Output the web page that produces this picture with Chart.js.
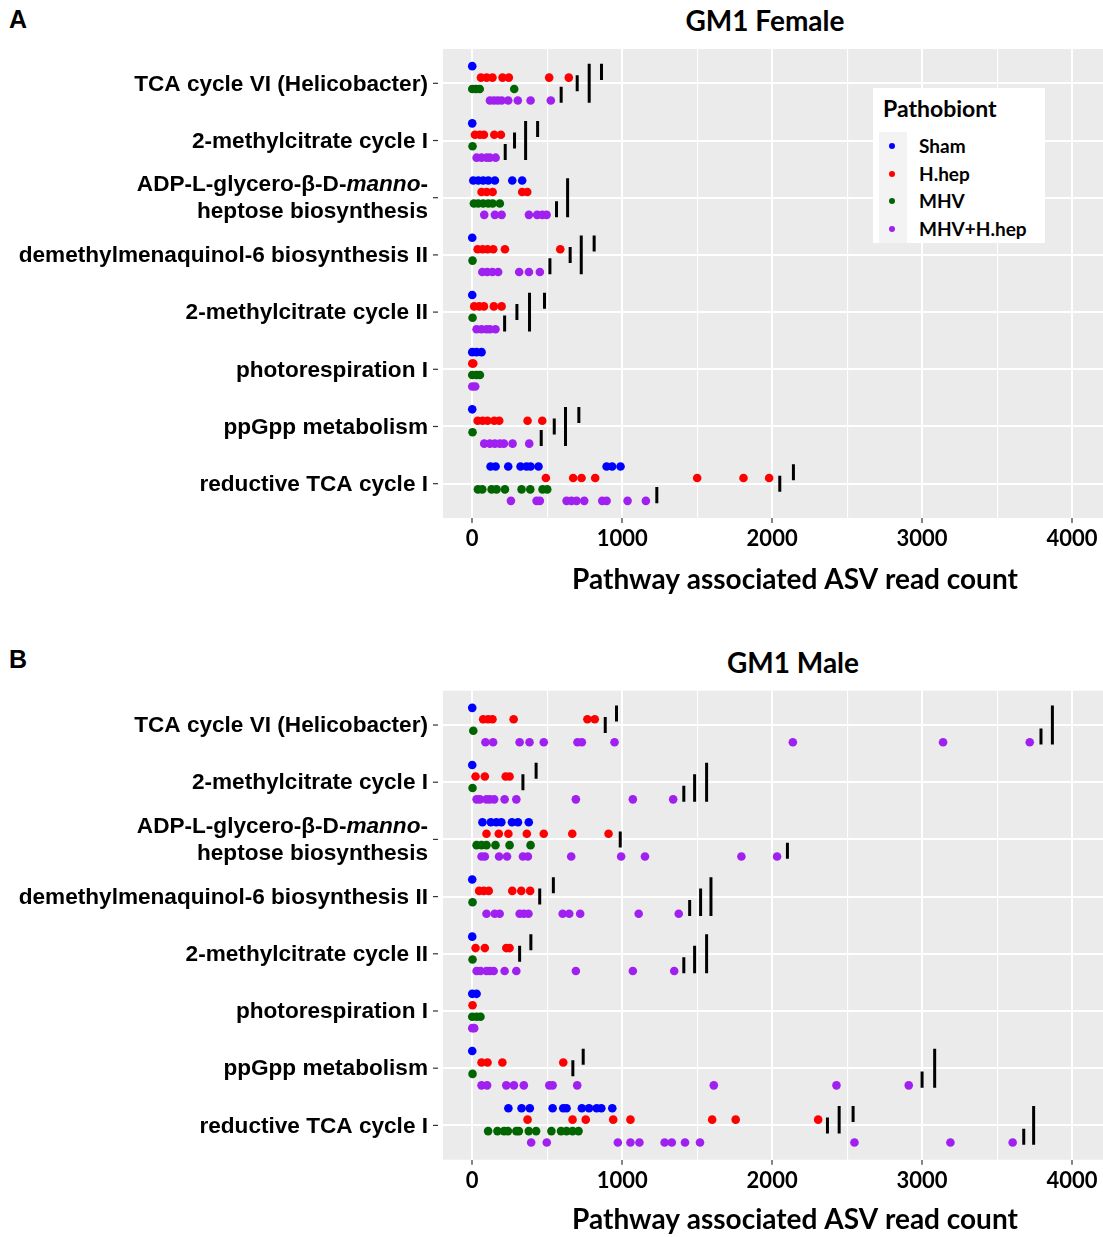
<!DOCTYPE html>
<html>
<head>
<meta charset="utf-8">
<script src="https://cdn.jsdelivr.net/npm/chart.js@4"></script>
<style>
  html, body { margin: 0; padding: 0; background: #fff; width: 1103px; height: 1237px; overflow: hidden; }
  #page { position: relative; width: 1103px; height: 1237px; overflow: hidden; }
  .panel { position: absolute; left: 0; }
  .letter { position: absolute; font: bold 25px "Liberation Sans", Arial, sans-serif; line-height: 28px; color: #000; }
  .title { position: absolute; font: bold 28px Lato, sans-serif; line-height: 32px; color: #000; transform: translateX(-50%); white-space: nowrap; }
  #legend { position: absolute; left: 873px; top: 88px; width: 172px; height: 155px; background: #fff; font-family: Lato, sans-serif; font-weight: bold; color: #000; }
  #legend .ltitle { position: absolute; left: 10px; top: 5px; font-size: 23px; line-height: 30px; }
  #legend .keys { position: absolute; left: 6px; top: 44px; width: 28px; height: 111px; background: #f3f3f3; }
  #legend .item { position: absolute; left: 46px; font-size: 19px; line-height: 24px; }
  #legend .dot { position: absolute; width: 6px; height: 6px; border-radius: 50%; }
</style>
</head>
<body>
<div id="page">
  <div class="letter" style="left:9px;top:5px;">A</div>
  <div class="title" style="left:765px;top:4px;">GM1 Female</div>
  <div class="panel" style="top:0px;"><canvas id="female" width="1160" height="600"></canvas></div>
  <div id="legend"></div>

  <div class="letter" style="left:9px;top:645px;">B</div>
  <div class="title" style="left:793px;top:646px;">GM1 Male</div>
  <div class="panel" style="top:640px;"><canvas id="male" width="1160" height="597"></canvas></div>
</div>
<script>
// Pathways, top to bottom. "\n" breaks a line, text between underscores is set in italics.
const pathways = [
  'TCA cycle VI (Helicobacter)',
  '2-methylcitrate cycle I',
  'ADP-L-glycero-β-D-_manno_-\nheptose biosynthesis',
  'demethylmenaquinol-6 biosynthesis II',
  '2-methylcitrate cycle II',
  'photorespiration I',
  'ppGpp metabolism',
  'reductive TCA cycle I'
];

const groups = ['Sham', 'H.hep', 'MHV', 'MHV+H.hep'];
const groupColors = ['#0000FF', '#FF0000', '#006400', '#A020F0'];

const xTickLabels = [0, 1000, 2000, 3000, 4000];
const xGridValues = [0, 500, 1000, 1500, 2000, 2500, 3000, 3500, 4000, 4500];
const xAxisTitle = 'Pathway associated ASV read count';
const legendTitle = 'Pathobiont';

// ---- GM1 Female: read counts per pathway, one array per group ----
const femaleSham = [
  [0], [0], [7, 40, 73, 107, 151, 267, 333], [0], [0], [0, 29, 62], [0],
  [122, 156, 240, 322, 362, 389, 442, 896, 933, 989]
];
const femaleHhep = [
  [58, 96, 135, 202, 244, 513, 644],
  [18, 51, 78, 147, 191],
  [62, 96, 136, 333, 367],
  [36, 69, 102, 140, 218, 587],
  [13, 47, 78, 144, 196],
  [0, 7],
  [36, 69, 102, 147, 180, 369, 467],
  [491, 673, 729, 820, 1500, 1809, 1980]
];
const femaleMHV = [
  [0, 25, 50, 280], [2], [11, 40, 73, 107, 136, 184], [2], [2], [0, 29, 51], [2],
  [38, 67, 129, 162, 218, 329, 387, 469, 500]
];
const femaleMHVHhep = [
  [118, 145, 170, 196, 240, 304, 389, 524],
  [29, 62, 96, 118, 156],
  [80, 151, 196, 378, 433, 467, 496],
  [67, 100, 135, 173, 313, 378, 451],
  [29, 62, 96, 118, 155],
  [0, 20],
  [80, 118, 151, 184, 211, 269, 380],
  [258, 429, 451, 629, 662, 696, 747, 867, 896, 1036, 1158]
];
// Significance bars: [pathway index, first group, second group, read count]
const femaleBars = [
  [0, 0, 1, 862], [0, 1, 2, 700], [0, 0, 3, 780], [0, 2, 3, 593],
  [1, 0, 1, 436], [1, 1, 2, 282], [1, 0, 3, 356], [1, 2, 3, 220],
  [2, 0, 3, 636], [2, 2, 3, 562],
  [3, 0, 1, 813], [3, 1, 2, 653], [3, 0, 3, 727], [3, 2, 3, 518],
  [4, 0, 1, 482], [4, 1, 2, 298], [4, 0, 3, 382], [4, 2, 3, 216],
  [6, 0, 1, 711], [6, 1, 2, 547], [6, 0, 3, 622], [6, 2, 3, 460],
  [7, 0, 1, 2142], [7, 1, 2, 2051], [7, 2, 3, 1231]
];

// ---- GM1 Male ----
const maleSham = [
  [0], [0], [68, 124, 161, 194, 265, 305, 377], [0], [0], [0, 29], [0],
  [241, 329, 384, 536, 607, 629, 731, 779, 830, 861, 934]
];
const maleHhep = [
  [73, 106, 135, 276, 768, 817],
  [22, 84, 223, 249],
  [95, 177, 241, 364, 477, 667, 909],
  [46, 77, 110, 267, 327, 386],
  [22, 84, 227, 249],
  [2],
  [62, 102, 201, 607],
  [369, 669, 757, 940, 1055, 1600, 1757, 2307]
];
const maleMHV = [
  [7], [2], [29, 62, 95, 155, 249, 389], [2], [2], [0, 29, 55], [2],
  [106, 168, 212, 238, 294, 311, 377, 426, 528, 592, 629, 669, 709]
];
const maleMHVHhep = [
  [88, 139, 316, 382, 477, 702, 731, 949, 2138, 3140, 3718],
  [29, 51, 95, 117, 146, 216, 294, 691, 1071, 1340],
  [62, 84, 179, 232, 338, 371, 660, 993, 1152, 1795, 2033],
  [95, 150, 183, 316, 344, 375, 603, 647, 720, 1110, 1377],
  [29, 55, 95, 117, 143, 216, 294, 691, 1071, 1347],
  [0, 13],
  [62, 99, 227, 278, 344, 514, 536, 700, 1611, 2429, 2911],
  [393, 497, 971, 1055, 1115, 1283, 1331, 1419, 1519, 2549, 3189, 3604]
];
const maleBars = [
  [0, 0, 1, 962], [0, 1, 2, 887], [0, 0, 3, 3869], [0, 2, 3, 3793],
  [1, 0, 1, 426], [1, 1, 2, 338], [1, 0, 3, 1563], [1, 1, 3, 1483], [1, 2, 3, 1411],
  [2, 1, 2, 987], [2, 2, 3, 2102],
  [3, 0, 1, 541], [3, 1, 2, 450], [3, 0, 3, 1592], [3, 1, 3, 1523], [3, 2, 3, 1450],
  [4, 0, 1, 391], [4, 1, 2, 316], [4, 0, 3, 1563], [4, 1, 3, 1483], [4, 2, 3, 1411],
  [6, 0, 1, 740], [6, 1, 2, 671], [6, 0, 3, 3084], [6, 2, 3, 3000],
  [7, 0, 1, 2540], [7, 0, 2, 2447], [7, 1, 2, 2369], [7, 0, 3, 3744], [7, 2, 3, 3678]
];

// ---- drawing ----
const ROW_STEP = 0.2;                       // vertical spacing of the group rows within a pathway
const rowPos = (p, g) => p + 1 + (g - (groups.length - 1) / 2) * ROW_STEP;
const BAR_OVERHANG = 0.04;

const labelFont = '"Liberation Sans", Arial, sans-serif';
const axisFont = 'Lato';

const panelBackground = {
  id: 'panelBackground',
  beforeDraw(chart) {
    const { ctx, chartArea: a } = chart;
    ctx.save();
    ctx.fillStyle = '#EBEBEB';
    ctx.fillRect(a.left, a.top, a.right - a.left, a.bottom - a.top);
    ctx.restore();
  }
};

// Pathway names on the y axis (supports two lines and an italic word)
const pathwayLabels = {
  id: 'pathwayLabels',
  afterDraw(chart) {
    const { ctx, chartArea } = chart;
    const ys = chart.scales.y;
    const right = chartArea.left - 15;
    const lineH = 27;
    ctx.save();
    ctx.textBaseline = 'middle';
    ctx.textAlign = 'left';
    ctx.fillStyle = '#000';
    pathways.forEach((label, i) => {
      const yc = ys.getPixelForValue(i + 1);
      // tick mark
      ctx.strokeStyle = '#333';
      ctx.lineWidth = 1.2;
      ctx.beginPath();
      ctx.moveTo(chartArea.left - 10, yc);
      ctx.lineTo(chartArea.left - 5, yc);
      ctx.stroke();
      const lines = label.split('\n');
      lines.forEach((line, k) => {
        const y = yc + (k - (lines.length - 1) / 2) * lineH + 1;
        const segs = line.split('_');
        const fonts = segs.map((s, j) => (j % 2 ? 'italic ' : '') + 'bold 22.6px ' + labelFont);
        const widths = segs.map((s, j) => { ctx.font = fonts[j]; return ctx.measureText(s).width; });
        let x = right - widths.reduce((a, b) => a + b, 0);
        segs.forEach((s, j) => { ctx.font = fonts[j]; ctx.fillText(s, x, y); x += widths[j]; });
      });
    });
    ctx.restore();
  }
};

function buildDatasets(seriesByGroup, bars) {
  const sets = [];
  bars.forEach(([p, g1, g2, v]) => {
    sets.push({
      data: [{ x: v, y: rowPos(p, g1) - BAR_OVERHANG }, { x: v, y: rowPos(p, g2) + BAR_OVERHANG }],
      showLine: true, borderColor: '#000', borderWidth: 3, borderCapStyle: 'butt',
      pointRadius: 0, pointHoverRadius: 0
    });
  });
  seriesByGroup.forEach((series, g) => {
    const pts = [];
    series.forEach((vals, p) => vals.forEach(v => pts.push({ x: v, y: rowPos(p, g) })));
    sets.push({
      label: groups[g], data: pts, showLine: false,
      backgroundColor: groupColors[g], borderWidth: 0,
      pointRadius: 4.3, pointHoverRadius: 4.3
    });
  });
  return sets;
}

function makeChart(id, seriesByGroup, bars, padTop, axisH, titlePadBottom) {
  return new Chart(document.getElementById(id), {
    type: 'scatter',
    data: { datasets: buildDatasets(seriesByGroup, bars) },
    options: {
      responsive: false, animation: false, events: [], devicePixelRatio: 1,
      layout: { padding: { top: padTop, right: 13, left: 0, bottom: 0 } },
      plugins: { legend: { display: false }, tooltip: { enabled: false } },
      scales: {
        x: {
          type: 'linear', min: -195, max: 4500,
          afterBuildTicks: s => { s.ticks = xGridValues.map(v => ({ value: v })); },
          afterFit: s => { s.height = axisH; },
          border: { display: false },
          grid: {
            color: '#FFFFFF',
            lineWidth: c => (c.tick && xTickLabels.includes(c.tick.value)) ? 2 : 1.1,
            drawTicks: true, tickLength: 5, tickWidth: 1.2,
            tickColor: c => (c.tick && xTickLabels.includes(c.tick.value)) ? '#333333' : 'rgba(0,0,0,0)'
          },
          ticks: {
            autoSkip: false, maxRotation: 0, padding: 3, color: '#000',
            font: { family: axisFont, weight: 'bold', size: 22 },
            callback: v => xTickLabels.includes(v) ? String(v) : ''
          },
          title: {
            display: true, text: xAxisTitle, color: '#000',
            font: { family: axisFont, weight: 'bold', size: 28 },
            padding: { top: 0, bottom: titlePadBottom }
          }
        },
        y: {
          type: 'linear', reverse: true, min: 0.4, max: pathways.length + 0.6,
          afterBuildTicks: s => { s.ticks = pathways.map((_, i) => ({ value: i + 1 })); },
          afterFit: s => { s.width = 443; },
          border: { display: false },
          grid: { color: '#FFFFFF', lineWidth: 2, drawTicks: false },
          ticks: { display: false }
        }
      }
    },
    plugins: [panelBackground, pathwayLabels]
  });
}

makeChart('female', [femaleSham, femaleHhep, femaleMHV, femaleMHVHhep], femaleBars, 49, 82, 3);
makeChart('male', [maleSham, maleHhep, maleMHV, maleMHVHhep], maleBars, 50.7, 77.3, 0);

// Legend
const legend = document.getElementById('legend');
legend.innerHTML = '<div class="ltitle"></div><div class="keys"></div>';
legend.querySelector('.ltitle').textContent = legendTitle;
groups.forEach((name, g) => {
  const cy = 58 + g * 27.7;
  const dot = document.createElement('div');
  dot.className = 'dot';
  dot.style.left = (19 - 3) + 'px';
  dot.style.top = (cy - 3) + 'px';
  dot.style.background = groupColors[g];
  legend.appendChild(dot);
  const item = document.createElement('div');
  item.className = 'item';
  item.style.top = (cy - 12) + 'px';
  item.textContent = name;
  legend.appendChild(item);
});
</script>
</body>
</html>
